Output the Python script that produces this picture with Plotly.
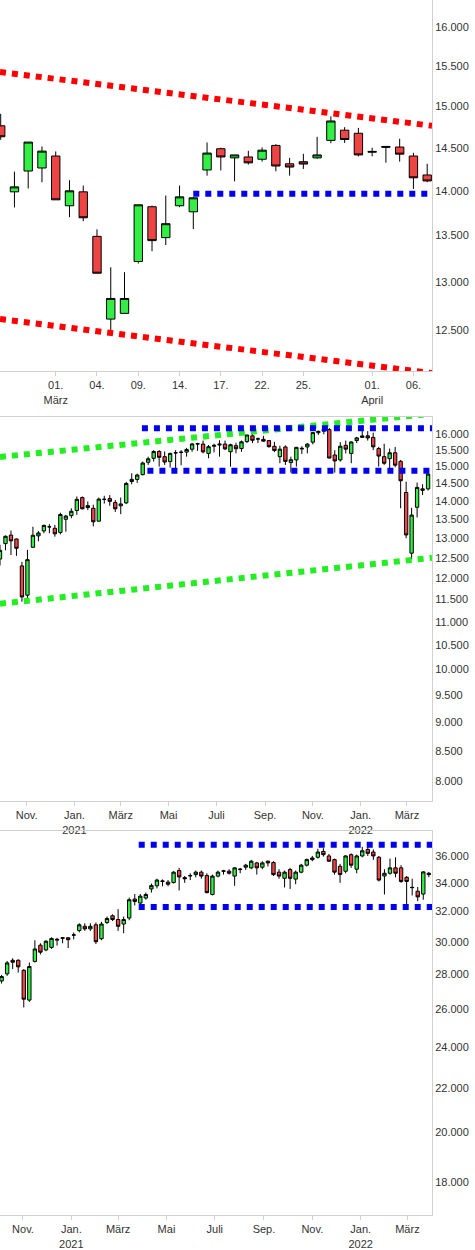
import plotly.graph_objects as go
import math

# ---------- Panel 1: DAX daily ----------
d_days = ["23.02","24.02","25.02","28.02","01.03","02.03","03.03","04.03","07.03","08.03","09.03","10.03","11.03",
          "14.03","15.03","16.03","17.03","18.03","21.03","22.03","23.03","24.03","25.03","28.03","29.03","30.03",
          "31.03","01.04","04.04","05.04","06.04","07.04"]
d_open  = [14766,13991,14231,14266,14406,13833,13991,13492,12611,12670,13218,13822,13478,13833,13765,14243,14492,14384,14395,14368,14531,14315,14339,14384,14591,14713,14676,14450,14519,14512,14406,14185]
d_high  = [14911,14224,14571,14519,14460,14124,14063,13569,13156,13103,13844,13835,13949,14063,13934,14566,14504,14420,14468,14508,14547,14384,14432,14634,14880,14749,14741,14504,14525,14610,14444,14315]
d_low   = [14598,13814,14029,14101,13900,13705,13660,13092,12482,12670,13196,13329,13397,13817,13572,14177,14238,14112,14306,14340,14227,14177,14255,14373,14558,14561,14402,14402,14328,14340,14024,14101]
d_close = [14634,14048,14571,14464,13900,14003,13698,13092,12825,12825,13844,13445,13632,13934,13923,14441,14395,14419,14326,14475,14289,14277,14312,14419,14824,14601,14419,14460,14510,14428,14152,14116]
p1_ticks = ["01.03","04.03","09.03","14.03","17.03","22.03","25.03","01.04","06.04"]
p1_ticktext = ["01.<br>März","04.","09.","14.","17.","22.","25.","01.<br>April","06."]
p1_yticks = [12500,13000,13500,14000,14500,15000,15500,16000]
p1_red_upper = [15429,14766]
p1_red_lower = [12611,12067]
p1_blue = 13970
p1_blue_start = "15.03"

# ---------- Panel 2: DAX weekly ----------
w_dates = ["2020-09-28","2020-10-05","2020-10-12","2020-10-19","2020-10-26","2020-11-02","2020-11-09","2020-11-16","2020-11-23","2020-11-30",
           "2020-12-07","2020-12-14","2020-12-21","2020-12-28","2021-01-04","2021-01-11","2021-01-18","2021-01-25","2021-02-01","2021-02-08",
           "2021-02-15","2021-02-22","2021-03-01","2021-03-08","2021-03-15","2021-03-22","2021-03-29","2021-04-05","2021-04-12","2021-04-19",
           "2021-04-26","2021-05-03","2021-05-10","2021-05-17","2021-05-24","2021-05-31","2021-06-07","2021-06-14","2021-06-21","2021-06-28",
           "2021-07-05","2021-07-12","2021-07-19","2021-07-26","2021-08-02","2021-08-09","2021-08-16","2021-08-23","2021-08-30","2021-09-06",
           "2021-09-13","2021-09-20","2021-09-27","2021-10-04","2021-10-11","2021-10-18","2021-10-25","2021-11-01","2021-11-08","2021-11-15",
           "2021-11-22","2021-11-29","2021-12-06","2021-12-13","2021-12-20","2021-12-27","2022-01-03","2022-01-10","2022-01-17","2022-01-24",
           "2022-01-31","2022-02-07","2022-02-14","2022-02-21","2022-02-28","2022-03-07","2022-03-14","2022-03-21","2022-03-28"]
dax_o = [12470,12860,13080,12980,12300,11600,12765,13060,13190,13300,13260,13150,13500,13600,13740,14100,13820,13800,13450,14050,
         14070,13960,13870,13950,14560,14620,14760,15130,15250,15460,15300,15150,15420,15430,15440,15530,15700,15690,15400,15620,
         15660,15690,15450,15640,15550,15770,15950,15850,15840,15800,15620,15300,15600,15120,15200,15560,15600,15750,16050,16100,
         16150,15350,15200,15650,15400,15800,15900,15950,15900,15550,15300,15240,15420,15160,14244,12616,13828,14347,14347]
dax_h = [12830,13070,13200,12990,12400,12700,13300,13190,13360,13370,13350,13680,13620,13800,14130,14130,13990,13900,14100,14150,
         14170,14030,14100,14550,14800,14790,15150,15300,15500,15500,15460,15420,15500,15500,15570,15730,15730,15800,15660,15700,
         15810,15800,15700,15730,15800,15980,16030,15900,15950,15810,15760,15640,15650,15300,15600,15620,15720,16060,16120,16290,
         16200,15500,15750,15800,15780,15920,16300,16100,16050,15600,15700,15550,15600,15200,14555,13815,14528,14480,14870]
dax_l = [12310,12690,12570,12550,11450,11520,12750,12920,13130,13130,13040,13100,13170,13530,13620,13770,13750,13310,13440,13930,
         13870,13700,13640,13920,14480,14520,14740,15050,15150,15000,15050,14970,14820,15040,15300,15450,15480,15400,15250,15430,
         15300,15500,15000,15400,15450,15720,15720,15720,15760,15580,15440,15100,15050,14820,15000,15380,15400,15680,15980,16000,
         15250,14820,15150,15400,15100,15720,15900,15800,15500,15000,15050,14900,14980,13800,13000,12460,13550,14170,14300]
dax_c = [12689,13050,12930,12740,11560,12454,13077,13137,13336,13298,13114,13630,13587,13719,14049,13787,13873,13433,14056,14050,
         13993,13786,13920,14502,14621,14748,15107,15234,15459,15280,15136,15400,15417,15437,15520,15693,15693,15448,15607,15650,
         15688,15540,15669,15544,15761,15977,15808,15852,15781,15609,15490,15531,15156,15206,15587,15543,15688,16054,16094,16160,
         15257,15170,15623,15531,15756,15885,15948,15883,15603,15318,15100,15420,15042,14580,13085,13615,14387,14306,14775]
p2_yticks = [8000,8500,9000,9500,10000,10500,11000,11500,12000,12500,13000,13500,14000,14500,15000,15500,16000]
p2_green_upper = [15292,16669]
p2_green_lower = [11404,12500]
p2_blue_upper = 16192
p2_blue_lower = 14872

# ---------- Panel 3: Dow Jones weekly ----------
dow_o = [27600,28020,28840,28840,28230,26500,28770,29780,29480,29640,30100,30220,30250,30420,30720,31000,30830,31100,30190,31250,
         31700,31450,31150,31550,32850,32570,32920,33560,33790,34100,34050,34020,34900,34380,34500,34600,34780,34530,33170,34490,
         34850,34850,34490,34970,35150,35100,35470,35150,35600,35500,34780,34330,34970,34270,34780,35300,35720,35900,36350,36000,
         35720,35220,34850,36100,35000,36000,36500,36300,35900,34500,34700,35100,35100,34400,33650,33400,33200,34700]
dow_h = [27950,28800,28960,28900,28300,28700,30090,29900,30100,30280,30250,30300,30300,30600,31200,31200,31200,31250,31300,31650,
         31800,32150,31650,32950,33200,33200,33300,33950,34300,34250,34200,34850,35100,34500,34700,34900,34900,34700,34600,34900,
         34950,35000,35150,35100,35400,35700,35550,35600,35650,35600,35000,34900,35100,34900,35400,35800,36000,36550,36600,36150,
         35800,35400,36050,36200,36100,36700,36950,36500,36000,35000,35800,35900,35300,34500,34300,33700,34850,34800]
dow_l = [27450,27900,28300,28100,26090,26400,28700,29200,29400,29550,29750,29900,29600,30150,30600,30700,30700,29850,30100,31150,
         31350,30700,30550,31400,32400,32150,32800,33300,33600,33750,33750,33950,33450,34000,34200,34400,34300,33250,33100,34400,
         34600,34600,33790,34700,34950,35000,34600,35000,35200,34500,34300,33670,33560,33900,34700,35200,35600,35800,35950,35550,
         34600,34000,34700,35100,34700,35900,36000,35700,34100,33170,34600,34400,34000,32290,33100,32700,32800,34400]
dow_c = [27860,28680,28720,28440,26550,28460,29540,29340,30030,30210,30150,30250,30130,30440,31100,30830,31000,30000,31150,31520,
         31450,31000,31450,32800,32680,33050,33170,33800,34200,34130,33900,34780,34430,34300,34530,34780,34490,33300,34490,34780,
         34870,34700,35100,35000,35300,35600,35100,35470,35470,34600,34490,34780,34330,34780,35300,35720,35850,36300,36100,35600,
         34780,34600,36000,35300,36000,36400,36200,36000,34200,34700,35100,34700,34100,34100,33670,33000,34800,34600]
dow_dates = w_dates[1:]
p3_yticks = [18000,20000,22000,24000,26000,28000,30000,32000,34000,36000]
p3_blue_upper = 36870
p3_blue_lower = 32290

month_ticks = ["2020-11-01","2021-01-01","2021-03-01","2021-05-01","2021-07-01","2021-09-01","2021-11-01","2022-01-01","2022-03-01"]
month_text = ["Nov.","Jan.<br>2021","März","Mai","Juli","Sep.","Nov.","Jan.<br>2022","März"]

GREEN = "#33ee44"; RED = "#ee4444"
def fmt(v):
    return f"{v:,}".replace(",", ".")

def candle(x, o, h, l, c, xa, ya):
    return go.Candlestick(x=x, open=o, high=h, low=l, close=c, xaxis=xa, yaxis=ya,
                          increasing=dict(fillcolor=GREEN, line=dict(color="black", width=1)),
                          decreasing=dict(fillcolor=RED, line=dict(color="black", width=1)),
                          whiskerwidth=0, showlegend=False, hoverinfo="skip")

def dline(x, y, color, xa, ya):
    return go.Scatter(x=x, y=y, mode="lines", xaxis=xa, yaxis=ya, showlegend=False, hoverinfo="skip",
                      line=dict(color=color, width=6, dash="dot"))

idx = list(range(len(d_days)))
P1_RANGE = [-0.05, 31.35]
fig = go.Figure()
fig.add_trace(candle(idx, d_open, d_high, d_low, d_close, "x", "y"))
fig.add_trace(dline(P1_RANGE, p1_red_upper, "#ff0000", "x", "y"))
fig.add_trace(dline(P1_RANGE, p1_red_lower, "#ff0000", "x", "y"))
fig.add_trace(dline([d_days.index(p1_blue_start), P1_RANGE[1]], [p1_blue, p1_blue], "#0000ee", "x", "y"))

fig.add_trace(candle(w_dates, dax_o, dax_h, dax_l, dax_c, "x2", "y2"))
fig.add_trace(dline(["2020-09-28", "2022-04-02"], p2_green_upper, "#22ee22", "x2", "y2"))
fig.add_trace(dline(["2020-09-28", "2022-04-02"], p2_green_lower, "#22ee22", "x2", "y2"))
fig.add_trace(dline(["2021-03-28", "2022-04-02"], [p2_blue_upper]*2, "#0000ee", "x2", "y2"))
fig.add_trace(dline(["2021-04-04", "2022-04-02"], [p2_blue_lower]*2, "#0000ee", "x2", "y2"))

fig.add_trace(candle(dow_dates, dow_o, dow_h, dow_l, dow_c, "x3", "y3"))
fig.add_trace(dline(["2021-03-27", "2022-04-01"], [p3_blue_upper]*2, "#0000ee", "x3", "y3"))
fig.add_trace(dline(["2021-03-27", "2022-04-01"], [p3_blue_lower]*2, "#0000ee", "x3", "y3"))

H = 1250
font = dict(family="Liberation Sans, Arial", size=11, color="#333333")
xcommon = dict(showgrid=False, showline=True, linecolor="#d0d0d0", linewidth=1, ticks="outside",
               tickcolor="#d0d0d0", ticklen=4, tickfont=font, rangeslider=dict(visible=False),
               domain=[0, 432/475], zeroline=False)
ycommon = dict(showgrid=False, showline=True, linecolor="#d0d0d0", linewidth=1, side="right",
               tickfont=font, ticks="", type="log", zeroline=False)

fig.update_layout(
    width=475, height=H, margin=dict(l=0, r=0, t=0, b=0),
    paper_bgcolor="white", plot_bgcolor="white", boxgap=0.13,
    xaxis=dict(xcommon, type="linear", range=P1_RANGE, tickvals=[d_days.index(t) for t in p1_ticks],
               ticktext=p1_ticktext, anchor="y"),
    yaxis=dict(ycommon, domain=[1-372/H, 1], range=[math.log10(12087), math.log10(16362)],
               tickvals=p1_yticks, ticktext=[fmt(v) for v in p1_yticks], anchor="x"),
    xaxis2=dict(xcommon, type="date", range=["2020-09-28", "2022-04-02"], tickvals=month_ticks, ticktext=month_text,
                anchor="y2", mirror=True),
    yaxis2=dict(ycommon, domain=[1-803/H, 1-418/H], range=[math.log10(7688), math.log10(16562)],
                tickvals=p2_yticks, ticktext=[fmt(v) for v in p2_yticks], anchor="x2"),
    xaxis3=dict(xcommon, type="date", range=["2020-10-03", "2022-04-01"], tickvals=month_ticks, ticktext=month_text,
                anchor="y3", mirror=True),
    yaxis3=dict(ycommon, domain=[1-1218/H, 1-833/H], range=[math.log10(16780), math.log10(37960)],
                tickvals=p3_yticks, ticktext=[fmt(v) for v in p3_yticks], anchor="x3"),
)
fig.write_html("out.html", config={"displayModeBar": False}, post_script="document.body.style.margin='0';")
